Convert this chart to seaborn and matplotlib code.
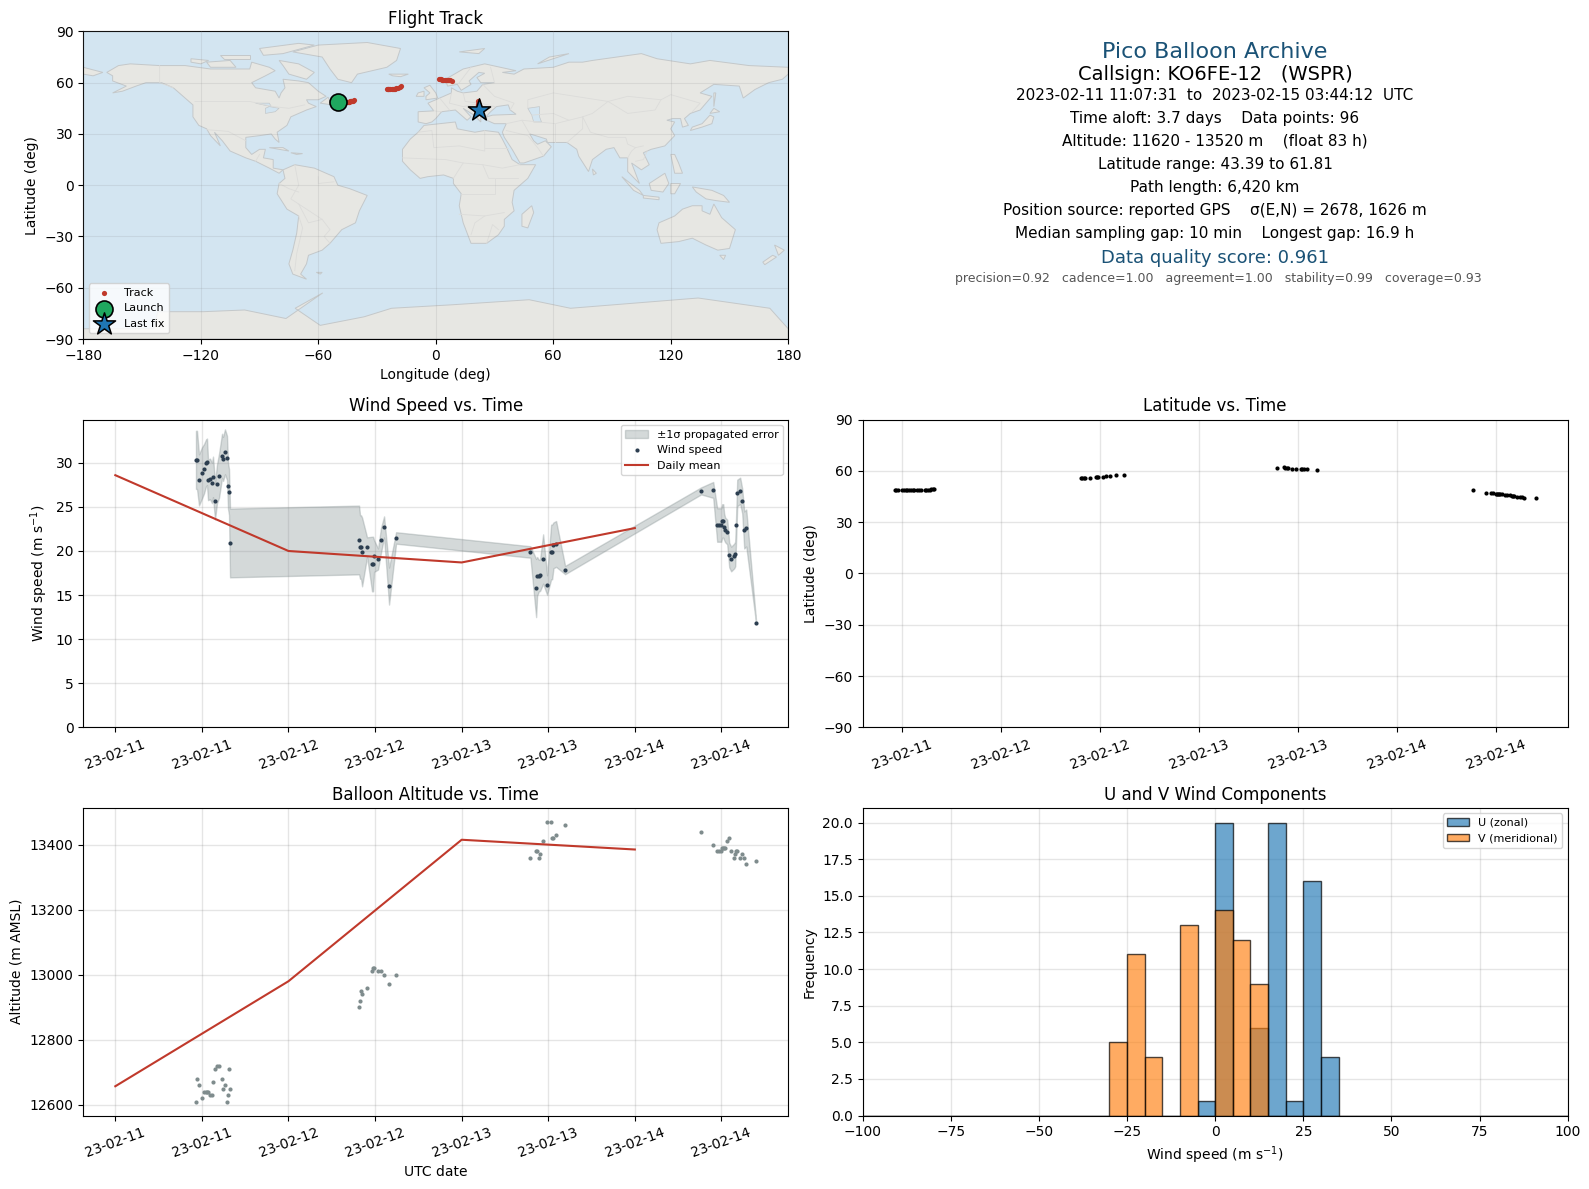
import numpy as np
import pandas as pd
import matplotlib
matplotlib.use("Agg")
import matplotlib.pyplot as plt
import matplotlib.dates as mdates
import seaborn as sns

# hours since 2023-02-11 00:00
hours = [11.18, 11.32, 11.60, 12.01, 12.29, 12.57, 12.71, 12.85, 13.12, 13.40, 13.54,
         13.82, 14.09, 14.37, 14.79, 14.93, 15.20, 15.48, 15.62, 15.76, 15.90,
         33.78, 33.92, 34.06, 34.20, 34.89, 35.58, 35.72, 35.86, 36.41, 36.83, 37.25,
         37.94, 38.91,
         57.53, 58.32, 58.46, 58.69, 58.87, 59.29, 59.84, 60.40, 60.54, 60.72, 61.09, 62.34,
         81.19, 82.86, 83.41, 83.69, 83.97, 84.11, 84.25, 84.38, 84.52, 84.80, 85.08,
         85.35, 85.77, 85.91, 86.05, 86.19, 86.60, 86.88, 87.16, 87.44, 88.82]
wind_speed = [30.34, 30.34, 28.07, 28.86, 29.32, 30.00, 30.11, 28.07, 28.18, 27.73, 28.41,
              25.68, 27.61, 28.52, 30.80, 30.45, 31.25, 30.57, 27.39, 26.70, 20.91,
              21.25, 20.45, 20.45, 19.89, 20.45, 18.52, 18.52, 19.43, 19.09, 21.25, 22.73,
              16.02, 21.48,
              19.89, 15.80, 17.12, 17.20, 17.27, 19.09, 16.14, 19.89, 19.89, 20.64, 20.80, 17.84,
              26.82, 26.93, 22.95, 22.95, 22.95, 23.41, 23.41, 22.73, 22.39, 22.16, 19.55,
              19.09, 19.43, 19.66, 22.95, 26.59, 26.82, 25.68, 22.39, 22.61, 11.82]
wind_sigma = [3.3, 3.3, 2.9, 2.9, 2.8, 2.65, 2.65, 2.3, 2.3, 2.3, 2.3,
              2.1, 2.2, 2.5, 2.5, 2.5, 2.55, 2.5, 2.6, 2.6, 3.9,
              3.9, 3.6, 3.6, 3.9, 1.1, 3.1, 3.1, 1.8, 1.2, 1.4, 1.2,
              2.1, 0.65,
              0.65, 3.3, 2.2, 1.8, 1.8, 2.8, 1.1, 3.1, 3.1, 2.6, 2.6, 0.47,
              0.4, 0.9, 1.9, 1.9, 1.9, 1.9, 1.9, 1.5, 1.4, 1.4, 1.4,
              1.4, 1.4, 1.4, 1.4, 1.5, 1.5, 1.4, 2.1, 2.1, 0.1]
altitude = [12610, 12680, 12660, 12620, 12640, 12640, 12640, 12640, 12630, 12630, 12670,
            12710, 12720, 12720, 12680, 12650, 12660, 12610, 12630, 12710, 12650,
            12900, 12920, 12950, 12940, 12960, 13010, 13020, 13020, 13010, 13010, 13000,
            12970, 13000,
            13360, 13380, 13380, 13360, 13370, 13410, 13470, 13470, 13420, 13420, 13430, 13460,
            13440, 13400, 13380, 13380, 13380, 13390, 13390, 13390, 13390, 13410, 13420,
            13380, 13360, 13370, 13380, 13380, 13360, 13370, 13360, 13340, 13350]
latitude = [48.9, 48.9, 48.9, 48.8, 48.8, 48.8, 48.8, 48.8, 48.8, 48.8, 48.8,
            48.8, 48.9, 48.9, 48.9, 49.0, 49.0, 49.1, 49.2, 49.4, 49.6,
            56.1, 56.1, 56.1, 56.1, 56.1, 56.5, 56.5, 56.5, 56.5, 57.0, 57.0,
            57.7, 57.8,
            61.9, 62.1, 61.9, 61.8, 61.7, 61.4, 61.4, 61.3, 61.3, 61.3, 61.3, 60.8,
            49.1, 47.3, 46.9, 46.8, 46.7, 46.7, 46.6, 46.5, 46.4, 46.2, 46.1,
            46.0, 45.7, 45.6, 45.4, 45.2, 45.0, 44.8, 44.6, 44.2, 44.4]
longitude = [-49.7, -49.3, -48.9, -48.5, -48.1, -47.7, -47.3, -46.9, -46.5, -46.1, -45.7,
             -45.3, -44.9, -44.5, -44.1, -43.7, -43.4, -43.1, -42.8, -42.4, -42.0,
             -25.0, -24.6, -24.2, -23.8, -23.2, -22.6, -22.0, -21.5, -20.9, -20.2, -19.5,
             -18.5, -17.5,
             1.8, 2.4, 2.9, 3.4, 3.9, 4.5, 5.0, 5.6, 6.2, 6.8, 7.4, 8.1,
             21.5, 21.7, 21.8, 21.8, 21.9, 21.9, 21.9, 22.0, 22.0, 22.0, 22.0,
             22.1, 22.1, 22.1, 22.1, 22.2, 22.2, 22.2, 22.2, 22.2, 22.2]
launch_lon, launch_lat = -49.9, 48.6
last_lon, last_lat = 22.2, 44.0

day_hours = [0, 24, 48, 72]
daily_wind = [28.6, 20.0, 18.7, 22.6]
daily_alt = [12657, 12980, 13415, 13385]

hist_bins = list(range(-100, 105, 5))
u_centers = [-2.5, 2.5, 12.5, 17.5, 22.5, 27.5, 32.5]
u_counts = [1, 20, 6, 20, 1, 16, 4]
v_centers = [-27.5, -22.5, -17.5, -7.5, 2.5, 7.5, 12.5]
v_counts = [5, 11, 4, 13, 14, 12, 9]

# rough coastlines, lon/lat
north_america = [(-168, 66), (-162, 70), (-156, 71), (-141, 70), (-128, 70), (-115, 68), (-108, 68),
                 (-95, 68), (-94, 72), (-85, 69), (-82, 67), (-87, 64), (-94, 60), (-92, 57), (-82, 55),
                 (-80, 51), (-79, 54), (-77, 57), (-78, 62), (-70, 61), (-65, 60), (-60, 55), (-56, 52),
                 (-60, 50), (-66, 50), (-65, 48), (-61, 46), (-66, 44), (-70, 42), (-74, 40), (-76, 35),
                 (-81, 31), (-80, 25), (-82, 27), (-84, 30), (-90, 29), (-97, 28), (-97, 22), (-94, 18),
                 (-90, 21), (-87, 21), (-88, 16), (-83, 15), (-83, 10), (-78, 9), (-80, 7), (-85, 10),
                 (-92, 14), (-97, 16), (-105, 20), (-109, 26), (-113, 31), (-110, 23), (-115, 29),
                 (-117, 33), (-121, 35), (-124, 40), (-124, 47), (-128, 51), (-134, 57), (-140, 60),
                 (-148, 60), (-153, 58), (-160, 55), (-165, 54), (-158, 58), (-165, 61), (-165, 64)]
greenland = [(-73, 78), (-60, 82), (-35, 83.5), (-18, 80), (-20, 73), (-25, 69), (-40, 65), (-43, 60),
             (-50, 62), (-54, 68), (-58, 75)]
south_america = [(-78, 9), (-72, 12), (-62, 10), (-52, 5), (-50, 0), (-44, -2), (-35, -6), (-39, -15),
                 (-41, -22), (-48, -26), (-54, -34), (-58, -38), (-65, -41), (-66, -46), (-69, -52),
                 (-66, -55), (-73, -52), (-75, -46), (-73, -38), (-71, -28), (-70, -18), (-76, -14),
                 (-81, -5), (-80, 1), (-77, 4)]
africa = [(-6, 35), (10, 37), (11, 33), (20, 31), (25, 32), (32, 31), (34, 27), (36, 22.5), (37, 20), (39, 15),
          (43, 12), (51, 12), (47, 4), (40, -3), (39, -10), (40, -15), (35, -20), (35, -24), (32, -29),
          (26, -34), (18, -34), (14, -22), (12, -12), (13, -5), (9, 1), (9, 4), (4, 6), (-4, 5), (-8, 4),
          (-13, 9), (-17, 14), (-17, 21), (-13, 27), (-9, 31)]
eurasia = [(-9, 37), (-9, 43), (-1, 43.5), (-4, 48), (2, 51), (8, 54), (8, 57), (11, 55), (14, 54),
           (21, 55), (24, 59), (30, 60), (23, 60), (21, 63), (25, 65.5), (22, 66), (17, 61), (18, 59),
           (13, 55.5), (11, 59), (6, 58), (5, 62), (14, 68), (25, 71), (41, 67), (34, 66), (40, 65),
           (45, 68), (60, 69), (68, 72), (75, 72), (80, 73), (105, 77), (113, 74), (130, 71), (140, 73),
           (160, 70), (180, 69), (180, 65), (177, 62), (170, 60), (163, 56), (157, 51), (155, 58),
           (142, 59), (135, 54), (141, 52), (135, 44), (130, 42), (127, 39), (129, 35), (126, 34),
           (125, 39), (121, 39), (118, 38), (122, 37), (120, 33), (122, 29), (117, 23), (110, 21),
           (106, 19), (109, 12), (105, 9), (100, 13), (104, 1), (98, 8), (98, 16), (94, 16), (91, 22),
           (87, 21), (80, 15), (78, 8), (73, 17), (72, 21), (67, 25), (57, 25), (56.5, 27), (51, 29),
           (48, 30), (50, 26), (52, 24), (56, 26), (59, 22.5), (55, 17), (45, 13), (43, 13), (39, 21), (35, 28),
           (34, 31), (36, 36), (30, 36), (26, 38), (26, 40), (29, 41), (41, 41.5), (38, 44), (37, 47),
           (31, 46), (28, 43), (26, 40.5), (23, 40), (23, 37), (19.5, 41), (14, 45), (18, 40), (16, 38),
           (10, 44), (3, 43), (0, 39), (-2, 37), (-5, 36)]
australia = [(114, -22), (122, -18), (126, -14), (131, -12), (136, -12), (136, -15), (140, -17), (142, -11),
             (146, -19), (153, -26), (150, -37), (144, -38), (138, -35), (131, -31), (124, -33), (115, -34),
             (113, -26)]
antarctica = [(-180, -90), (180, -90), (180, -84), (170.6, -72), (134, -66), (68.8, -72), (47.7, -67),
              (7.8, -70), (-22.6, -72), (-36.6, -77), (-59, -82), (-71.8, -72), (-57.7, -63), (-76.5, -78),
              (-97.6, -73), (-118.6, -74), (-142, -74), (-144, -84), (-180, -84)]
islands = [
    [(-180, 69), (-170, 66), (-175, 64), (-180, 65)],
    [(-80, 73), (-70, 71), (-62, 66), (-66, 62), (-75, 65), (-78, 70)],
    [(-90, 80), (-70, 83), (-62, 82), (-78, 77), (-88, 76)],
    [(-117, 72), (-105, 73), (-102, 69), (-115, 69)],
    [(-125, 74), (-116, 73), (-120, 71), (-125, 72)],
    [(-110, 76), (-95, 76), (-95, 74), (-108, 74)],
    [(-59, 48), (-55, 51.5), (-53, 47)],
    [(-85, 22), (-75, 20), (-78, 22)],
    [(-74, 19), (-68, 18.5), (-71, 18)],
    [(-5, 50), (1, 51), (0, 54), (-3, 58.5), (-6, 57), (-3, 54), (-5, 52)],
    [(-10, 52), (-6, 52), (-6, 55), (-9, 54)],
    [(-24, 65), (-14, 65), (-18, 63.5), (-22, 64)],
    [(12, 78), (25, 80), (22, 77)],
    [(52, 71), (68, 77), (58, 75)],
    [(130, 32), (136, 34), (141, 36), (142, 40), (140, 41), (136, 36), (131, 34)],
    [(140, 42), (145, 43), (142, 45)],
    [(142, 46), (143, 54), (142, 54)],
    [(120, 18), (122, 18), (124, 13), (126, 7), (122, 7)],
    [(95, 5), (104, -3), (106, -6), (101, -3)],
    [(106, -6), (114, -7), (114, -8.5), (106, -7.5)],
    [(109, 1), (117, 7), (119, 1), (116, -4), (110, -3)],
    [(120, 1), (125, 1), (122, -5), (120, -5)],
    [(131, -1), (141, -3), (147, -6), (150, -10), (143, -9), (138, -8), (133, -4)],
    [(145, -41), (148, -41), (147, -43.5)],
    [(173, -35), (178, -38), (175, -41)],
    [(172, -41), (174, -42), (168, -46.5), (167, -45)],
    [(49, -12), (50, -16), (47, -25), (44, -24), (44, -17)],
    [(80, 9.5), (82, 7), (80.5, 6)],
    [(-61, -51), (-58, -51), (-59, -52)],
]
inland_water = [
    [(47, 45), (53, 46), (53, 40), (54, 37), (50, 37), (49, 41)],
    [(-92, 48), (-85, 48), (-84, 46), (-88, 47)],
    [(-87, 45), (-85, 46), (-80, 45), (-82, 43), (-87, 42)],
]
borders = [
    [(-123, 49), (-95, 49), (-83, 46), (-75, 45), (-67, 47)], [(-141, 70), (-141, 60), (-134, 57)],
    [(-117, 32.5), (-106, 31.5), (-97, 26)], [(-92, 14), (-90, 18)],
    [(-72, 12), (-70, 0), (-74, -8), (-70, -11), (-58, -20), (-54, -26), (-57, -30), (-54, -34)],
    [(-70, -18), (-68, -25), (-71, -40), (-72, -50)], [(-80, 1), (-75, -2), (-70, -4)],
    [(-60, 5), (-60, 1), (-52, 2)], [(-70, -11), (-65, -22), (-58, -20)],
    [(-9, 31), (-2, 32), (-1, 22), (12, 23), (25, 20), (25, 32)], [(25, 22), (37, 22)],
    [(-17, 16), (5, 15), (14, 13), (24, 12), (34, 10), (43, 12)],
    [(9, 4), (14, 13)], [(13, -5), (30, -5), (30, 4), (34, 4), (42, 4)], [(12, -17), (25, -18), (35, -16)],
    [(18, -29), (20, -22), (25, -18)], [(26, -34), (29, -23), (32, -26)], [(24, 12), (27, 4), (30, 4)],
    [(2, 51), (7, 44)], [(-1, 43.5), (3, 43)], [(8, 54), (7, 48), (14, 46), (23, 48), (30, 46)],
    [(14, 54), (15, 49), (23, 48)], [(24, 59), (30, 52), (40, 48), (38, 44)],
    [(28, 69), (30, 60)], [(18, 69), (12, 60)],
    [(49, 41), (60, 42), (68, 38), (75, 40), (80, 42), (88, 49), (60, 54), (47, 50), (47, 45)],
    [(88, 49), (98, 52), (115, 50), (120, 53), (135, 48), (131, 43)], [(88, 49), (98, 42), (112, 44), (115, 50)],
    [(75, 40), (79, 31), (88, 28), (97, 28), (98, 24), (102, 22), (106, 23)], [(61, 36), (61, 25)],
    [(67, 25), (70, 28), (75, 33), (75, 40)], [(44, 38), (48, 30)], [(36, 36), (44, 38), (61, 36), (68, 38)],
    [(36, 32), (47, 29), (52, 22), (55, 17)], [(98, 16), (100, 20), (102, 22)], [(102, 14), (106, 15), (108, 20)],
]

title_lines = ["Pico Balloon Archive", "Callsign: KO6FE-12   (WSPR)"]
info_lines = ["2023-02-11 11:07:31  to  2023-02-15 03:44:12  UTC",
              "Time aloft: 3.7 days    Data points: 96",
              "Altitude: 11620 - 13520 m    (float 83 h)",
              "Latitude range: 43.39 to 61.81",
              "Path length: 6,420 km",
              "Position source: reported GPS    \u03c3(E,N) = 2678, 1626 m",
              "Median sampling gap: 10 min    Longest gap: 16.9 h"]
quality_line = "Data quality score: 0.961"
subscore_line = "precision=0.92   cadence=1.00   agreement=1.00   stability=0.99   coverage=0.93"

RED = "#c0392b"
NAVY = "#2c3e50"
GREY = "#7f8c8d"
TITLE_BLUE = "#1a5276"


def draw_land(ax):
    for poly in [north_america, greenland, south_america, africa, eurasia, australia, antarctica] + islands:
        xy = np.array(poly)
        ax.fill(xy[:, 0], xy[:, 1], facecolor="#e7e7e3", edgecolor="#c4c8ca", linewidth=0.7, zorder=1)
    for poly in inland_water:
        xy = np.array(poly)
        ax.fill(xy[:, 0], xy[:, 1], facecolor="#d3e5f1", edgecolor="#c4c8ca", linewidth=0.5, zorder=1.1)
    for line in borders:
        xy = np.array(line)
        ax.plot(xy[:, 0], xy[:, 1], color="#dcdcda", linewidth=0.6, zorder=1.2)


def style_time_axis(ax):
    ax.xaxis.set_major_locator(mdates.HourLocator(byhour=[0, 12]))
    ax.xaxis.set_major_formatter(mdates.DateFormatter("%y-%m-%d"))
    ax.tick_params(axis="x", rotation=20)
    ax.grid(True, color="gray", alpha=0.2, linewidth=1.0)
    ax.set_axisbelow(True)
    ax.set_xlabel("")


df = pd.DataFrame({"hours": hours, "wind": wind_speed, "sigma": wind_sigma, "alt": altitude,
                   "lat": latitude, "lon": longitude})
df["time"] = pd.Timestamp("2023-02-11") + pd.to_timedelta(df["hours"], unit="h")
daily = pd.DataFrame({"wind": daily_wind, "alt": daily_alt})
daily["time"] = pd.Timestamp("2023-02-11") + pd.to_timedelta(day_hours, unit="h")

fig, axes = plt.subplots(3, 2, figsize=(15.89, 11.89), dpi=100)
fig.subplots_adjust(left=0.0524, right=0.9866, top=0.9736, bottom=0.0618, hspace=0.262, wspace=0.1056)

# map
ax = axes[0, 0]
ax.set_facecolor("#d3e5f1")
draw_land(ax)
sns.scatterplot(data=df, x="lon", y="lat", ax=ax, color=RED, s=14, linewidth=0, label="Track", zorder=3)
ax.scatter([launch_lon], [launch_lat], s=150, c="#1fa85f", edgecolors="black", linewidths=1.2, label="Launch", zorder=4)
ax.scatter([last_lon], [last_lat], s=280, c="#1f77b4", marker="*", edgecolors="black", linewidths=1.1,
           label="Last fix", zorder=5)
ax.set_xlim(-180, 180)
ax.set_ylim(-90, 90)
ax.set_xticks(range(-180, 181, 60))
ax.set_yticks(range(-90, 91, 30))
ax.grid(True, color="gray", alpha=0.15, linewidth=0.8, zorder=2)
ax.set_axisbelow(False)
ax.set_title("Flight Track", fontsize=12, pad=5)
ax.set_xlabel("Longitude (deg)")
ax.set_ylabel("Latitude (deg)")
ax.legend(loc="lower left", fontsize=8)

# text panel
axes[0, 1].axis("off")
cx = 0.7646
fig.text(cx, 1 - 52 / 1189, title_lines[0], fontsize=16, color=TITLE_BLUE, ha="center", va="center")
fig.text(cx, 1 - 74 / 1189, title_lines[1], fontsize=14, ha="center", va="center")
for i, line in enumerate(info_lines):
    fig.text(cx, 1 - (95.5 + i * 23.0) / 1189, line, fontsize=11, ha="center", va="center")
fig.text(cx, 1 - 258 / 1189, quality_line, fontsize=13, color=TITLE_BLUE, ha="center", va="center")
fig.text(cx + 0.002, 1 - 279 / 1189, subscore_line, fontsize=9, color="#555555", ha="center", va="center")

# wind speed
ax = axes[1, 0]
ax.fill_between(df["time"], df["wind"] - df["sigma"], df["wind"] + df["sigma"], color=GREY, alpha=0.33,
                label="\u00b11\u03c3 propagated error")
sns.scatterplot(data=df, x="time", y="wind", ax=ax, color=NAVY, s=9, linewidth=0, label="Wind speed")
sns.lineplot(data=daily, x="time", y="wind", ax=ax, color=RED, linewidth=1.5, errorbar=None, label="Daily mean")
style_time_axis(ax)
ax.set_ylim(bottom=0)
ax.set_title("Wind Speed vs. Time", fontsize=12)
ax.set_ylabel("Wind speed (m s$^{-1}$)")
ax.legend(loc="upper right", fontsize=8)

# latitude
ax = axes[1, 1]
sns.scatterplot(data=df, x="time", y="lat", ax=ax, color="black", s=9, linewidth=0)
style_time_axis(ax)
ax.set_ylim(-90, 90)
ax.set_yticks(range(-90, 91, 30))
ax.set_title("Latitude vs. Time", fontsize=12)
ax.set_ylabel("Latitude (deg)")

# altitude
ax = axes[2, 0]
sns.scatterplot(data=df, x="time", y="alt", ax=ax, color=GREY, s=9, linewidth=0)
sns.lineplot(data=daily, x="time", y="alt", ax=ax, color=RED, linewidth=1.5, errorbar=None)
style_time_axis(ax)
ax.set_title("Balloon Altitude vs. Time", fontsize=12)
ax.set_xlabel("UTC date")
ax.set_ylabel("Altitude (m AMSL)")

# wind components
ax = axes[2, 1]
sns.histplot(x=u_centers, weights=u_counts, bins=hist_bins, ax=ax, color="tab:blue", alpha=0.65,
             edgecolor=(0, 0, 0, 0.7), linewidth=1, label="U (zonal)")
sns.histplot(x=v_centers, weights=v_counts, bins=hist_bins, ax=ax, color="tab:orange", alpha=0.65,
             edgecolor=(0, 0, 0, 0.7), linewidth=1, label="V (meridional)")
ax.set_xlim(-100, 100)
ax.grid(True, color="gray", alpha=0.2, linewidth=1.0)
ax.set_axisbelow(True)
ax.set_title("U and V Wind Components", fontsize=12)
ax.set_xlabel("Wind speed (m s$^{-1}$)")
ax.set_ylabel("Frequency")
ax.legend(loc="upper right", fontsize=8)

fig.savefig("out.png", dpi=100)
